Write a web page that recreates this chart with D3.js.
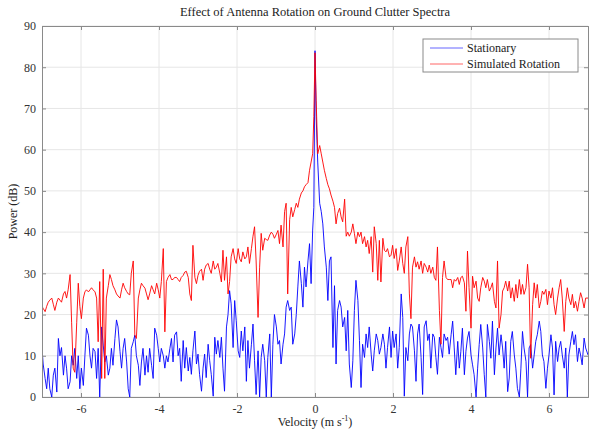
<!DOCTYPE html>
<html>
<head>
<meta charset="utf-8">
<script src="https://cdn.jsdelivr.net/npm/d3@7"></script>
<style>
  body { margin: 0; background: #fff; }
  text { font-family: "Liberation Serif", "DejaVu Serif", serif; }
</style>
</head>
<body>
<div id="chart"></div>
<script>
// velocity samples (m/s) shared by both spectra
const velocity = [
  -7.00, -6.97, -6.92, -6.88, -6.84, -6.80, -6.75, -6.71, -6.67, -6.62,
  -6.58, -6.54, -6.50, -6.45, -6.41, -6.37, -6.33, -6.28, -6.24, -6.20,
  -6.16, -6.11, -6.07, -6.03, -5.99, -5.94, -5.90, -5.86, -5.81, -5.77,
  -5.73, -5.69, -5.64, -5.60, -5.56, -5.52, -5.47, -5.43, -5.39, -5.35,
  -5.30, -5.26, -5.22, -5.18, -5.13, -5.09, -5.05, -5.00, -4.96, -4.92,
  -4.88, -4.83, -4.79, -4.75, -4.71, -4.66, -4.62, -4.58, -4.53, -4.49,
  -4.45, -4.41, -4.36, -4.32, -4.28, -4.24, -4.19, -4.15, -4.11, -4.06,
  -4.02, -3.98, -3.94, -3.89, -3.85, -3.81, -3.77, -3.72, -3.68, -3.64,
  -3.60, -3.55, -3.51, -3.47,
  -3.43, -3.38, -3.34, -3.30, -3.25, -3.21, -3.17, -3.13, -3.08, -3.04,
  -3.00, -2.96, -2.91, -2.87, -2.83, -2.79, -2.74, -2.70, -2.66, -2.61,
  -2.57, -2.53, -2.49, -2.44, -2.40, -2.36, -2.32, -2.27, -2.23, -2.19,
  -2.15, -2.10, -2.06, -2.02, -1.97, -1.93, -1.89, -1.85, -1.80, -1.76,
  -1.72, -1.68, -1.63, -1.59, -1.55, -1.51, -1.46, -1.42, -1.38, -1.34,
  -1.29, -1.25, -1.21, -1.16, -1.12, -1.08, -1.04, -0.99, -0.95, -0.91,
  -0.87, -0.82, -0.78, -0.74, -0.70, -0.65, -0.61, -0.57, -0.52, -0.48,
  -0.44, -0.40, -0.35, -0.31, -0.27, -0.23, -0.18, -0.14, -0.10, -0.06,
  -0.03, 0.00, 0.03,
  0.07, 0.12, 0.16, 0.20, 0.24, 0.29, 0.33, 0.37, 0.41, 0.46,
  0.50, 0.54, 0.58, 0.63, 0.67, 0.71, 0.76, 0.80, 0.84, 0.88,
  0.93, 0.97, 1.01, 1.05, 1.10, 1.14, 1.18, 1.22, 1.27, 1.31,
  1.35, 1.39, 1.44, 1.48, 1.52, 1.57, 1.61, 1.65, 1.69, 1.74,
  1.78, 1.82, 1.86, 1.91, 1.95, 1.99, 2.03, 2.08, 2.12, 2.16,
  2.21, 2.25, 2.29, 2.33, 2.38, 2.42, 2.46, 2.50, 2.55, 2.59,
  2.63, 2.67, 2.72, 2.76, 2.80, 2.85, 2.89, 2.93, 2.97, 3.02,
  3.06, 3.10, 3.14, 3.19, 3.23, 3.27, 3.31, 3.36, 3.40, 3.44,
  3.49, 3.53, 3.57, 3.61, 3.66, 3.70, 3.74, 3.78, 3.83, 3.87,
  3.91, 3.95, 4.00, 4.04, 4.08, 4.13, 4.17, 4.21, 4.25, 4.30,
  4.34, 4.38, 4.42, 4.47, 4.51, 4.55, 4.60, 4.64, 4.68, 4.72,
  4.77, 4.81, 4.85, 4.89, 4.94, 4.98, 5.02, 5.06, 5.11, 5.15,
  5.19, 5.24, 5.28, 5.32, 5.36, 5.41, 5.45, 5.49, 5.53, 5.58,
  5.62, 5.66, 5.70, 5.75, 5.79, 5.83, 5.87, 5.92, 5.96, 6.00,
  6.05, 6.09, 6.13, 6.17, 6.22, 6.26, 6.30, 6.34, 6.39, 6.43,
  6.47, 6.51, 6.56, 6.60, 6.64, 6.68, 6.73, 6.77, 6.81, 6.85,
  6.90, 6.94, 7.00
]

// stationary antenna power (dB)
const stationaryDb = [
  12, 8, 4.5, 2, 7, 2, 0, 5.3, 7, 1.2,
  14.2, 10, 12, 5.3, 10, 7, 2, 3.7, 10, 7.7,
  11.8, 4.5, 10, 2, 7, 2.8, 10, 16.7, 15, 10,
  7, 11.8, 11, 4.5, 11.8, 0, 17, 12.6, 8.5, 10,
  5.3, 7, 11.8, 7.7, 14.2, 18.7, 17, 11, 7, 11.8,
  14.2, 8.5, 2, 0, 11.8, 13.4, 15, 10, 7.7, 2.8,
  8.5, 11.8, 5.3, 10, 6, 11.8, 7.7, 4.5, 16.7, 15,
  11.8, 8.5, 11.8, 10, 7, 10, 8.5, 11.8, 14.2, 8.5,
  15, 15.8, 10, 11.8,
  3.8, 13.7, 7, 12, 6.3, 9.6, 5.5, 11.2, 16, 8,
  10.4, 5.5, 1.4, 7, 10.4, 4.7, 12.8, 8.8, 5.5, 0.2,
  14.5, 10.4, 13.7, 9.6, 14.5, 7, 1.4, 17, 20, 25.8,
  22.6, 12, 23.4, 18.5, 11.2, 9.6, 16, 11.2, 17, 3.8,
  13.7, 7, 12.8, 17.7, 8.8, 0.6, 11.2, 0, 9.6, 12.8,
  8.8, 0, 9.6, 15.3, 0, 12.8, 20, 17, 12.8, 13.7,
  8, 12.8, 15.3, 21.8, 23.4, 21, 21.8, 12.8, 15.3, 20,
  26.7, 33, 27.5, 21.8, 31.5, 26.7, 33, 37.2, 27.5, 40.5,
  46, 84, 68,
  57, 47, 45, 42, 36.4, 31.5, 23.4, 33, 34, 12,
  27, 8, 21, 23.4, 21.8, 17, 19.3, 11.2, 21, 8,
  2.3, 8.8, 21, 28.3, 23.4, 13.7, 2.3, 12.8, 9.6, 15.3,
  12, 17, 10.4, 6.3, 11.2, 15.3, 13.7, 10.4, 12, 15.3,
  12.8, 7, 12, 17, 9.6, 16, 12, 15.3, 7, 12,
  25, 19.3, 0.2, 12, 8.8, 15.3, 17.7, 17, 11.2, 3.8,
  15.3, 17.7, 9.6, 0.6, 17, 18.5, 13.7, 15.3, 7, 15.3,
  14.5, 9.6, 5.5, 14.5, 12, 9.6, 15.3, 13.7, 14.5, 10.4,
  15.1, 18.4, 11.9, 5.4, 13.5, 7, 11.1, 16.7, 5.4, 11.1,
  14.3, 15.9, 10.2, 7.8, 5.4, 0, 7, 12.7, 17.6, 11.9,
  5.4, 0, 17.6, 13.5, 9.4, 18.4, 5.4, 11.9, 16.7, 10.2,
  15.1, 11.9, 7, 13.5, 1.3, 4.6, 13.5, 15.9, 10.2, 7,
  2.1, 0, 7, 15.9, 11.9, 8.6, 0, 11.9, 12.7, 7,
  10.2, 13.5, 15.1, 18.4, 15.9, 10.2, 8.6, 2.1, 7, 10.2,
  15.1, 11.9, 0.5, 13.5, 8.6, 11.9, 13.5, 10.2, 7, 11.9,
  0, 10.2, 13.5, 15.9, 12.7, 15.1, 8.6, 11.9, 10.2, 7.8,
  14.3, 11.9, 10.2
]

// simulated rotation power (dB)
const rotationDb = [
  22, 21.5, 20.7, 22, 23, 23.5, 24, 22.5, 21, 23,
  24, 23.5, 23, 25, 25.6, 24, 26, 29.7, 18, 7,
  6, 18, 27.6, 22, 19, 24, 25.5, 26, 25.5, 26,
  26.5, 26, 25.5, 24, 13.4, 28, 4.5, 31, 4.5, 24,
  27, 29.7, 28.5, 27, 26, 25, 24.5, 24, 26, 27.6,
  26.5, 25.6, 25, 24.8, 30, 33, 15, 14.2, 24, 26,
  27.6, 27, 26.4, 25, 23.6, 25, 27, 26, 25, 27.6,
  26, 24, 28, 36, 15.8, 28, 29, 29.7, 28.5, 28.5,
  29, 29, 28.5, 28,
  29, 29.5, 30.3, 30.5, 29, 25, 23.4, 36.8, 29, 27.5,
  29.5, 30.5, 31, 28.3, 31, 32, 32.4, 31, 30, 33,
  31, 31.5, 32.4, 30, 27.9, 35.6, 28.3, 34, 25, 28,
  34, 36, 33.5, 32.4, 36, 33.5, 32.8, 35.2, 33.5, 34,
  36.4, 32.4, 36, 39, 41.3, 33, 19.3, 31.5, 39.7, 35.6,
  38.5, 38.2, 38, 39.3, 40, 39.5, 38.5, 39.5, 40.4, 37.2,
  41.7, 36.4, 45, 47, 25, 43, 46, 43.7, 45.5, 47,
  46, 48, 49.5, 50, 51, 51.5, 52, 55, 57, 59,
  68, 83.5, 72,
  59, 61, 59, 57, 55, 53, 51.5, 50.5, 49, 47.5,
  46, 42, 44.5, 45.8, 43.7, 42.5, 48, 39, 40, 39,
  40, 42, 39.7, 37.2, 40, 38.9, 40, 37.2, 38.9, 36.4,
  38, 34.8, 38.9, 30.3, 41.3, 37.2, 28.3, 38, 27.9, 38.5,
  35.6, 35.2, 36, 34, 34.4, 36.8, 33.6, 36, 30.7, 33,
  36.4, 32.4, 30, 36.4, 38.9, 25, 19, 31.5, 34, 31.5,
  32.8, 31, 33, 30, 32.4, 31.5, 30.3, 32, 30, 31.5,
  29, 28.3, 36.4, 21, 12.8, 29, 33, 29, 28.5, 28.5,
  28.5, 26.5, 28.5, 28.1, 29, 27.3, 29, 29.3, 27.7, 20.8,
  35.4, 26.5, 16.7, 29.3, 26.5, 28.1, 24, 23.2, 26.5, 29,
  28.1, 26.5, 28.5, 25.7, 26.5, 27.7, 23.2, 21.6, 33, 16.7,
  20, 25.7, 26.5, 28.1, 25.7, 28.1, 24, 26.5, 23.2, 27.3,
  24, 28.5, 24.9, 27.3, 24.9, 26.5, 32.2, 26.5, 9.4, 22.4,
  27.7, 24, 27.3, 21.6, 23.2, 25.7, 24.9, 26.1, 22.4, 25.7,
  24, 26.5, 22.4, 20, 24, 26.5, 28.5, 24, 15.9, 23.2,
  26.5, 24, 22.4, 24.9, 21.6, 23.2, 20.8, 23.2, 25.3, 24,
  21.6, 24, 24
]

const xTicks = [-6, -4, -2, 0, 2, 4, 6]
const yTicks = [0, 10, 20, 30, 40, 50, 60, 70, 80, 90]
const seriesNames = ['Stationary', 'Simulated Rotation']
const seriesColors = ['#0000ff', '#ff0000']

const width = 589
const height = 433
const plotLeft = 42, plotRight = 588, plotTop = 26, plotBottom = 397

const svg = d3.select('#chart')
    .append('svg')
    .attr('width', width)
    .attr('height', height)

const x = d3.scaleLinear().domain([-7, 7]).range([plotLeft, plotRight])
const y = d3.scaleLinear().domain([0, 90]).range([plotBottom, plotTop])

// grid
svg.append('g')
    .selectAll('line')
    .data(xTicks)
    .enter()
    .append('line')
    .attr('x1', d => x(d)).attr('x2', d => x(d))
    .attr('y1', plotTop).attr('y2', plotBottom)
    .attr('stroke', '#e6e6e6')
    .attr('stroke-width', 1)

svg.append('g')
    .selectAll('line')
    .data(yTicks)
    .enter()
    .append('line')
    .attr('x1', plotLeft).attr('x2', plotRight)
    .attr('y1', d => y(d)).attr('y2', d => y(d))
    .attr('stroke', '#e6e6e6')
    .attr('stroke-width', 1)

svg.append('clipPath')
    .attr('id', 'plot-clip')
    .append('rect')
    .attr('x', plotLeft).attr('y', plotTop)
    .attr('width', plotRight - plotLeft).attr('height', plotBottom - plotTop)

const line = d3.line()
    .x(d => x(d[0]))
    .y(d => y(d[1]))

const series = [stationaryDb, rotationDb].map(vals => velocity.map((v, i) => [v, vals[i]]))

svg.append('g')
    .attr('clip-path', 'url(#plot-clip)')
    .selectAll('path')
    .data(series)
    .enter()
    .append('path')
    .attr('d', line)
    .attr('fill', 'none')
    .attr('stroke', (d, i) => seriesColors[i])
    .attr('stroke-width', 0.9)
    .attr('stroke-linejoin', 'round')

// axes, ticks point inward like matlab
const axisColor = '#8a8a8a'
const labelColor = '#333'

svg.append('g')
    .attr('transform', `translate(0,${plotBottom})`)
    .call(d3.axisBottom(x).tickValues(xTicks).tickSize(-4).tickPadding(7).tickFormat(d => String(d)))
svg.append('g')
    .attr('transform', `translate(0,${plotTop})`)
    .call(d3.axisTop(x).tickValues(xTicks).tickSize(-4).tickFormat(''))
svg.append('g')
    .attr('transform', `translate(${plotLeft},0)`)
    .call(d3.axisLeft(y).tickValues(yTicks).tickSize(-4).tickPadding(6))
svg.append('g')
    .attr('transform', `translate(${plotRight},0)`)
    .call(d3.axisRight(y).tickValues(yTicks).tickSize(-4).tickFormat(''))

svg.selectAll('.domain, .tick line').attr('stroke', axisColor)
svg.selectAll('.tick text')
    .attr('fill', labelColor)
    .attr('font-size', 12)
    .style('font-family', '"Liberation Serif", serif')

// title and labels
svg.append('text')
    .attr('x', (plotLeft + plotRight) / 2)
    .attr('y', 16)
    .attr('text-anchor', 'middle')
    .attr('font-size', 12.5)
    .attr('fill', '#222')
    .text('Effect of Antenna Rotation on Ground Clutter Spectra')

const xLabel = svg.append('text')
    .attr('x', (plotLeft + plotRight) / 2)
    .attr('y', 426)
    .attr('text-anchor', 'middle')
    .attr('font-size', 12)
    .attr('fill', '#222')
xLabel.append('tspan').text('Velocity (m s')
xLabel.append('tspan').attr('font-size', 8).attr('dy', -5).text('-1')
xLabel.append('tspan').attr('dy', 5).text(')')

svg.append('text')
    .attr('transform', `translate(17,${(plotTop + plotBottom) / 2}) rotate(-90)`)
    .attr('text-anchor', 'middle')
    .attr('font-size', 12)
    .attr('fill', '#222')
    .text('Power (dB)')

// legend
const legend = svg.append('g')
legend.append('rect')
    .attr('x', 423).attr('y', 39)
    .attr('width', 155).attr('height', 33)
    .attr('fill', '#fff')
    .attr('stroke', axisColor)

const items = legend.selectAll('.item')
    .data(seriesNames)
    .enter()
    .append('g')
    .attr('transform', (d, i) => `translate(0,${48 + i * 16})`)

items.append('line')
    .attr('x1', 430).attr('x2', 463)
    .attr('y1', 0).attr('y2', 0)
    .attr('stroke', (d, i) => seriesColors[i])
    .attr('stroke-opacity', 0.6)
    .attr('stroke-width', 1)

items.append('text')
    .attr('x', 467)
    .attr('y', 4)
    .attr('font-size', 12)
    .attr('fill', '#222')
    .text(d => d)
</script>
</body>
</html>
